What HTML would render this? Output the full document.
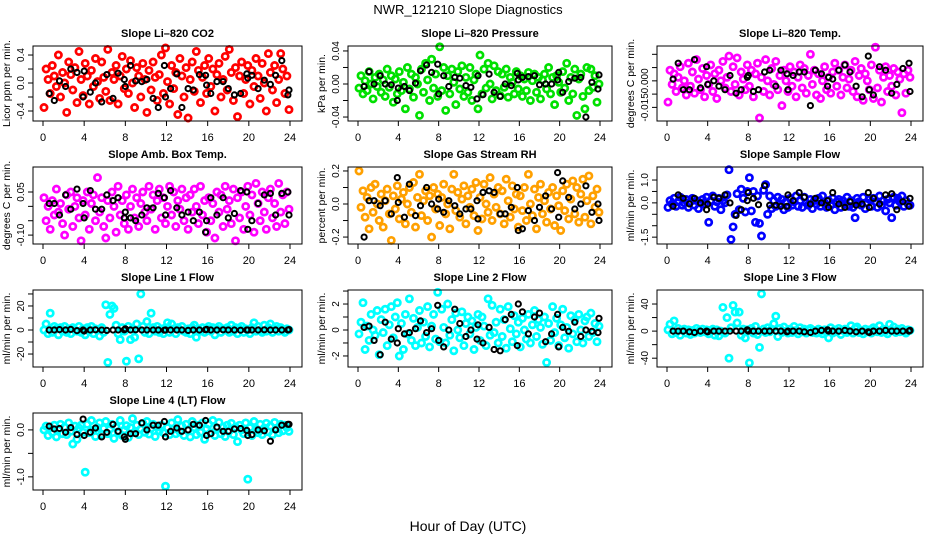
<!DOCTYPE html>
<html><head><meta charset="utf-8">
<style>
html,body{margin:0;padding:0;background:#fff;}
svg{display:block;font-family:"Liberation Sans",sans-serif;}
</style></head>
<body>
<svg id="chart" width="936" height="540" viewBox="0 0 936 540" xmlns="http://www.w3.org/2000/svg">
<text x="468" y="14" text-anchor="middle" font-size="13">NWR_121210  Slope Diagnostics</text>
<text x="468" y="531" text-anchor="middle" font-size="14">Hour of Day (UTC)</text>
</svg>
<script>
const hours=[0.1,0.3,0.5,0.7,0.9,1.1,1.3,1.5,1.7,1.9,2.1,2.3,2.5,2.7,2.9,3.1,3.3,3.5,3.7,3.9,4.1,4.3,4.5,4.7,4.9,5.1,5.3,5.5,5.7,5.9,6.1,6.3,6.5,6.7,6.9,7.1,7.3,7.5,7.7,7.9,8.1,8.3,8.5,8.7,8.9,9.1,9.3,9.5,9.7,9.9,10.1,10.3,10.5,10.7,10.9,11.1,11.3,11.5,11.7,11.9,12.1,12.3,12.5,12.7,12.9,13.1,13.3,13.5,13.7,13.9,14.1,14.3,14.5,14.7,14.9,15.1,15.3,15.5,15.7,15.9,16.1,16.3,16.5,16.7,16.9,17.1,17.3,17.5,17.7,17.9,18.1,18.3,18.5,18.7,18.9,19.1,19.3,19.5,19.7,19.9,20.1,20.3,20.5,20.7,20.9,21.1,21.3,21.5,21.7,21.9,22.1,22.3,22.5,22.7,22.9,23.1,23.3,23.5,23.7,23.9];
const blackHours=[0.6,1.1,1.6,2.2,2.7,3.3,3.9,4.0,4.6,5.1,5.7,6.2,6.8,7.3,7.9,8.0,8.5,9.0,9.6,10.1,10.7,11.2,11.8,11.9,12.4,13.0,13.5,14.1,14.6,15.2,15.8,15.9,16.3,16.9,17.5,18.0,18.6,19.2,19.8,19.9,20.3,20.9,21.5,22.1,22.6,23.2,23.8,23.9];
const xTicks=[0,4,8,12,16,20,24];

const co2=[-0.35,0.2,0.05,-0.15,0.25,0.1,-0.05,0.4,-0.2,0.15,0.0,-0.42,0.3,0.12,-0.1,0.22,-0.28,0.45,0.05,-0.18,0.28,0.1,-0.3,0.18,-0.05,0.35,0.02,-0.22,0.3,0.08,-0.12,0.48,-0.25,0.15,0.05,0.25,-0.3,0.1,0.38,-0.08,0.2,-0.15,0.32,0.0,-0.35,0.22,0.1,-0.2,0.28,0.05,-0.42,0.18,-0.1,0.3,0.08,-0.25,0.12,0.4,-0.15,0.5,0.02,-0.3,0.25,-0.08,0.15,-0.45,0.35,0.1,-0.2,0.22,-0.5,0.05,0.3,-0.12,0.45,0.18,-0.28,0.08,0.25,-0.15,0.35,-0.05,0.2,-0.4,0.12,0.28,-0.2,0.05,0.38,-0.1,0.48,0.15,-0.25,0.22,-0.48,0.1,0.3,-0.15,0.05,0.25,-0.3,0.18,-0.05,0.35,0.1,-0.22,0.28,0.0,-0.4,0.42,0.15,-0.1,0.25,-0.28,0.05,0.42,0.2,-0.15,0.1,-0.38];
const co2Black=[-0.15,-0.25,0.03,-0.05,0.2,0.15,-0.2,0.17,-0.13,0.0,-0.27,0.12,-0.22,0.14,0.05,-0.05,0.25,0.03,0.02,0.05,-0.22,-0.35,0.25,-0.2,-0.08,0.13,-0.35,-0.08,-0.1,0.12,0.11,-0.03,-0.15,0.02,0.02,-0.08,-0.17,-0.15,0.13,0.07,0.11,-0.08,0.04,-0.02,0.11,0.32,-0.17,-0.1];
const pres=[-0.005,0.01,-0.012,0.004,-0.008,0.015,0.0,-0.018,0.008,-0.003,0.012,-0.01,0.005,-0.015,0.018,-0.004,0.01,-0.022,0.006,-0.012,0.015,-0.008,0.002,-0.03,0.02,-0.006,0.012,-0.016,0.008,0.0,-0.038,0.018,-0.01,0.025,0.005,-0.02,0.03,-0.005,0.012,-0.015,0.045,-0.008,0.02,-0.032,0.01,-0.012,0.018,0.002,-0.025,0.015,-0.006,0.022,-0.015,0.008,-0.01,0.02,-0.02,0.005,0.012,-0.03,0.035,-0.012,0.018,-0.005,0.025,0.0,-0.018,0.022,-0.008,0.015,-0.014,0.012,-0.004,0.018,-0.016,0.008,0.002,-0.012,0.015,-0.006,0.01,-0.015,0.006,-0.008,0.014,-0.02,0.004,0.012,-0.01,0.008,-0.018,0.005,0.012,-0.006,0.02,-0.012,0.008,-0.025,0.01,0.002,-0.01,0.015,-0.005,0.025,-0.02,0.008,-0.012,0.018,-0.038,0.006,0.012,-0.015,-0.03,0.02,-0.008,0.018,-0.004,0.01,-0.022,0.0];
const presBlack=[-0.003,0.015,0.0,0.01,0.0,-0.001,-0.02,-0.005,-0.003,-0.008,0.001,0.016,0.023,0.014,0.024,-0.012,0.01,-0.003,0.008,0.007,-0.002,-0.004,-0.018,0.01,-0.013,0.012,-0.01,-0.015,0.0,-0.002,0.013,0.005,0.008,0.009,0.01,-0.001,0.0,0.0,0.005,0.014,-0.01,0.003,0.007,0.008,-0.04,0.002,-0.006,0.011];
const temp=[-0.012,0.006,-0.002,0.004,-0.006,0.002,0.008,-0.004,0.0,-0.008,0.01,-0.003,0.005,-0.007,0.012,0.001,-0.005,0.007,-0.009,0.003,-0.002,0.009,-0.006,0.004,-0.01,0.006,0.0,0.011,-0.004,0.002,0.014,-0.006,0.008,-0.002,0.013,-0.008,0.005,0.001,-0.005,0.009,-0.003,0.006,-0.009,0.004,0.01,-0.021,0.002,-0.006,0.012,0.0,-0.008,0.007,-0.002,0.011,-0.005,0.003,-0.014,0.006,0.0,-0.006,0.008,-0.003,0.005,-0.009,0.002,0.009,-0.004,0.007,-0.007,0.003,0.015,-0.002,0.006,-0.008,0.004,-0.01,0.0,0.008,-0.005,0.002,-0.007,0.005,0.01,-0.003,0.006,-0.008,0.002,0.009,-0.004,0.001,0.006,-0.006,0.011,-0.009,0.003,0.007,-0.011,0.004,0.0,-0.005,0.009,-0.01,0.019,-0.004,0.006,-0.012,0.002,0.008,-0.006,0.003,-0.003,0.007,-0.008,0.005,0.001,-0.018,0.004,-0.007,0.006,0.002];
const tempBlack=[0.001,0.01,-0.005,-0.005,0.012,-0.004,0.008,-0.002,0.0,-0.003,-0.005,0.003,-0.007,-0.005,0.002,0.003,-0.006,-0.005,0.005,0.006,-0.003,0.006,0.004,-0.005,0.003,0.005,0.005,-0.014,0.006,0.004,-0.003,0.002,0.001,0.006,0.009,0.005,-0.003,-0.009,0.014,-0.005,-0.008,0.008,0.006,-0.007,-0.002,0.007,0.01,-0.006];
const amb=[0.03,-0.05,0.0,-0.08,0.02,-0.03,0.06,-0.02,0.01,-0.06,-0.1,0.04,-0.01,0.05,-0.07,0.0,0.03,-0.04,-0.12,0.02,-0.03,0.05,-0.08,0.01,0.04,-0.05,0.1,-0.02,0.03,-0.07,-0.11,0.02,-0.04,0.05,0.0,-0.09,0.07,-0.03,0.02,-0.06,0.04,-0.08,0.0,0.06,-0.04,0.03,-0.07,0.01,0.05,-0.02,-0.05,0.07,-0.01,0.04,-0.08,0.02,0.06,-0.04,0.03,-0.06,0.0,0.07,-0.03,0.05,-0.07,0.02,-0.01,0.06,-0.05,0.03,-0.08,0.04,-0.02,0.06,0.0,-0.06,0.07,-0.03,0.02,-0.09,0.03,-0.05,0.01,-0.11,0.05,-0.02,0.04,-0.07,0.07,-0.01,0.02,-0.06,0.06,-0.12,0.03,-0.04,0.05,-0.08,0.0,0.07,-0.03,0.04,-0.09,0.08,0.01,-0.05,0.05,-0.02,-0.08,0.03,0.06,-0.04,0.01,-0.07,0.08,-0.02,0.04,-0.06,0.05,-0.01];
const ambBlack=[0.01,0.01,-0.03,0.04,-0.01,0.06,0.01,-0.04,0.055,-0.01,-0.01,0.04,0.02,0.03,-0.04,-0.02,-0.04,-0.05,-0.03,-0.005,-0.005,0.045,0.03,-0.03,0.055,-0.005,-0.03,-0.02,-0.05,-0.02,-0.09,-0.05,0.03,-0.03,0.03,-0.04,-0.025,0.055,0.05,-0.08,-0.05,0.01,0.04,0.045,-0.03,0.045,0.05,-0.03];
const rh=[0.2,-0.02,0.08,-0.08,0.04,-0.15,0.1,-0.05,0.12,0.0,-0.1,0.06,-0.14,0.02,0.09,-0.06,-0.22,0.05,-0.03,0.11,-0.09,0.03,0.07,-0.12,0.0,0.1,-0.05,0.13,-0.14,0.04,0.18,-0.07,0.02,0.08,-0.1,0.05,-0.2,0.1,-0.03,0.06,-0.13,0.04,0.12,-0.06,0.0,-0.15,0.09,0.18,-0.04,0.07,-0.08,0.03,0.11,-0.12,0.05,-0.02,0.09,-0.07,0.13,-0.16,0.04,-0.09,0.12,0.0,-0.05,0.16,-0.1,0.06,-0.02,0.1,-0.06,0.08,-0.12,0.15,0.02,-0.08,0.11,-0.03,0.06,-0.14,0.05,-0.04,0.1,-0.1,0.18,0.0,-0.07,0.09,-0.15,0.04,0.12,-0.06,0.02,-0.11,0.07,-0.03,0.1,-0.13,0.05,-0.01,-0.16,0.08,-0.04,0.12,-0.09,0.03,0.14,-0.06,0.1,-0.11,0.06,0.15,-0.08,0.02,0.17,-0.12,0.05,-0.02,0.09,-0.05];
const rhBlack=[-0.2,0.02,0.02,-0.01,0.02,-0.06,0.16,0.01,-0.08,0.12,-0.07,-0.01,0.1,0.0,-0.03,0.03,-0.05,0.02,-0.01,-0.06,-0.03,-0.03,0.02,-0.09,0.07,0.08,0.07,-0.06,-0.06,-0.02,0.1,-0.16,-0.15,-0.04,-0.1,-0.02,0.05,-0.03,0.19,-0.08,0.14,0.04,-0.03,0.0,0.11,-0.05,0.0,-0.1];
const flow=[-0.2,0.1,-0.05,0.2,-0.15,0.05,0.25,-0.1,0.0,0.15,-0.2,0.05,0.2,-0.1,0.1,-0.25,0.0,0.15,-0.05,0.25,-0.85,0.1,0.3,-0.15,0.05,0.2,-0.3,0.1,0.0,0.35,1.45,-1.6,-1.05,-0.5,0.4,-0.3,0.6,0.2,-0.4,0.5,1.1,-0.35,0.5,-0.85,0.3,-0.9,-1.45,0.55,0.8,-0.5,0.3,-0.25,0.1,-0.15,0.25,-0.05,0.15,-0.3,0.05,-0.2,0.2,-0.1,0.05,0.3,-0.15,0.1,-0.2,0.25,0.0,-0.1,0.15,-0.25,0.1,-0.05,0.2,-0.15,0.3,0.0,-0.2,0.1,-0.1,0.2,-0.3,0.05,0.15,-0.2,0.1,-0.05,0.25,-0.15,0.1,-0.2,-0.65,0.2,0.05,-0.1,0.25,-0.25,0.0,0.15,-0.15,0.2,0.05,-0.2,0.3,-0.1,0.1,-0.35,0.15,0.0,-0.65,0.25,-0.1,0.2,0.05,0.3,-0.15,0.1,-0.05,-0.1];
const flowBlack=[-0.15,0.35,0.2,-0.05,0.2,0.0,-0.3,-0.05,0.25,0.2,0.35,0.0,-0.55,-0.3,0.1,0.45,0.2,-0.08,0.75,-0.1,-0.1,-0.15,-0.15,0.35,0.1,0.45,0.25,-0.05,0.2,0.0,0.1,-0.2,0.45,-0.05,-0.2,0.05,-0.1,-0.05,0.45,-0.2,0.2,-0.05,0.35,0.4,-0.3,0.05,-0.15,0.2];
const line1=[0,5,-3,14,-2,3,1,-4,2,-1,3,-2,1,-3,2,0,-1,3,-2,1,-4,2,-1,3,-3,1,0,-5,2,-2,21,-27,13,20,18,4,-3,-8,2,-1,-26,3,-8,1,-6,5,-24,30,3,-2,7,-3,14,2,-1,3,-2,1,-3,2,6,-2,5,1,-3,2,0,3,-1,-2,1,-3,2,4,-6,1,-1,2,-2,1,3,-1,2,-4,1,3,-2,1,0,2,-2,4,-1,2,-3,1,3,-2,1,0,-3,2,6,-1,3,0,-2,4,-1,2,5,-2,1,3,-1,2,0,-2,1,0];
const line1Black=[0,0,0.3,0,0.5,-0.5,0,-0.8,0,0.2,0,-0.3,0,0,0.2,1,0,0.2,0,0,0,0,-0.2,0,0,0,0,-0.3,0,0,0.2,0.5,0,0,0.2,0,0,-0.2,0,0,0,0,0.2,0,0,0,0,0.3];
const line2=[-0.3,0.6,2.1,-1.5,0.3,-0.8,1.2,0.0,-0.4,1.5,-1.9,0.8,-0.2,1.6,-1.2,0.4,1.8,-0.6,1.0,2.1,-2.0,0.5,-1.5,1.2,-0.3,2.4,-0.8,0.9,-1.2,0.2,1.5,-1.0,0.6,-0.5,1.8,-1.3,0.3,1.2,-0.7,2.9,-0.9,1.6,0.2,-1.0,2.0,-0.4,0.8,-1.6,1.3,0.0,-0.6,1.4,-1.2,0.5,1.0,-0.3,0.7,-1.5,0.2,1.2,-0.8,1.0,0.3,-1.2,2.4,-0.4,1.9,-0.2,0.6,-1.0,1.6,-0.5,0.8,-1.4,1.8,0.1,-0.9,1.1,-0.3,0.6,-1.3,0.9,0.0,-0.7,1.2,-1.0,0.4,1.5,-0.5,0.8,0.2,-1.1,1.0,-2.5,0.5,-0.8,1.8,-0.2,0.9,-1.2,0.4,1.6,-0.6,0.2,-1.4,1.1,-0.3,0.8,-0.9,1.2,0.0,-1.0,0.7,1.0,-0.5,1.3,-0.2,0.5,-0.9,0.3];
const line2Black=[0.2,0.3,-0.8,-1.9,0.6,-0.7,-1.0,0.1,-0.3,-0.2,0.1,0.7,-0.2,0.1,1.9,-0.8,-1.3,0.0,1.6,0.5,-0.5,0.0,-0.7,0.4,-1.0,0.2,-1.5,-1.6,0.8,1.2,-1.2,2.0,1.4,-0.3,1.0,1.3,-0.9,-0.3,1.2,-1.3,0.2,-0.1,0.6,-0.5,0.0,-0.1,-0.2,0.9];
const line3=[2,10,-4,15,-2,4,-6,1,3,-3,2,-5,1,-3,4,0,-2,3,-1,2,-4,1,3,-6,2,-7,0,35,-3,20,-40,5,38,28,12,28,-6,3,-10,2,-47,4,-3,7,-5,-24,55,3,-2,5,-1,3,11,22,-8,4,-2,6,0,-3,3,-2,7,1,-4,5,-1,3,-3,2,4,-2,1,-3,3,0,-4,2,-1,-10,5,-3,2,-1,4,-5,1,3,-2,0,8,-3,4,6,-2,1,-4,3,-1,2,-3,5,2,-1,8,-2,3,0,-4,10,1,6,-2,3,-1,4,0,-3,2,1];
const line3Black=[0,0,0,-1,-2,0,0,-1,0,0,0,0,0,0,2,0,0,0,0,0,0,0,-1,0,0,0,-1,-2,0,1,2,0,0,0,1,0,-1,0,-1,-2,0,0,1,0,0,0,0,1];
const line4=[0.0,0.08,-0.12,0.05,-0.05,0.1,-0.15,0.02,0.12,-0.08,0.06,-0.1,0.15,-0.03,-0.3,0.08,-0.2,0.04,0.1,-0.05,-0.9,0.12,-0.06,0.2,0.0,-0.14,0.05,0.15,-0.1,0.03,0.18,-0.08,0.02,0.12,-0.18,0.06,-0.04,0.2,-0.12,0.0,0.09,-0.16,0.05,0.24,-0.06,0.1,-0.1,0.02,0.14,-0.05,0.18,-0.09,0.03,0.12,-0.14,0.06,-0.02,0.1,-0.06,-1.2,0.05,-0.1,0.15,0.02,-0.08,0.22,-0.04,0.08,-0.12,0.12,0.0,-0.15,0.18,0.05,-0.1,0.1,-0.05,0.15,-0.2,0.02,0.12,-0.06,0.2,-0.12,0.04,0.16,-0.08,0.06,-0.14,0.1,-0.02,0.14,-0.1,0.06,-0.25,0.1,0.0,-0.08,0.15,-1.05,0.05,-0.12,0.18,0.0,-0.06,0.12,-0.1,0.04,0.14,-0.04,0.08,-0.1,0.16,0.02,-0.06,0.12,-0.02,0.1,0.05,-0.03];
const line4Black=[0.08,0.02,0.03,-0.05,0.05,-0.1,0.23,-0.12,-0.05,0.04,-0.15,-0.05,0.12,-0.03,-0.15,-0.2,-0.08,-0.08,0.15,0.0,0.1,0.1,0.18,-0.15,-0.03,0.04,-0.03,0.0,0.12,0.1,0.2,-0.12,-0.08,0.06,-0.03,-0.03,0.02,0.03,-0.01,-0.12,-0.1,0.0,-0.02,-0.24,0.0,0.1,0.12,0.12];

const cols=[{L:33,R:302},{L:348,R:612},{L:657,R:923}];
const rowTop=[46,167,290,413], rowBot=[121,244,367,490];
const panels=[
 {name:'co2',title:'Slope Li\u2013820 CO2',ylab:'Licor ppm per min.',color:'#ff0000',r:0,c:0,lo:-0.543,hi:0.529,ticks:[-0.4,-0.2,0,0.2,0.4],labels:['-0.4','0.0','0.4'],labVals:[-0.4,0,0.4],vals:co2,blk:co2Black},
 {name:'pressure',title:'Slope Li\u2013820 Pressure',ylab:'kPa per min.',color:'#00e000',r:0,c:1,lo:-0.0448,hi:0.046,ticks:[-0.04,-0.02,0,0.02,0.04],labels:['-0.04','0.00','0.04'],labVals:[-0.04,0,0.04],vals:pres,blk:presBlack},
 {name:'li820-temp',title:'Slope Li\u2013820 Temp.',ylab:'degrees C per min.',color:'#ff00ff',r:0,c:2,lo:-0.0227,hi:0.0197,ticks:[-0.015,-0.0075,0,0.0075,0.015],labels:['-0.015','0.000'],labVals:[-0.015,0],vals:temp,blk:tempBlack},
 {name:'amb-box-temp',title:'Slope Amb. Box Temp.',ylab:'degrees C per min.',color:'#ff00ff',r:1,c:0,lo:-0.131,hi:0.137,ticks:[-0.1,-0.05,0,0.05],labels:['-0.10','0.05'],labVals:[-0.1,0.05],vals:amb,blk:ambBlack},
 {name:'gas-stream-rh',title:'Slope Gas Stream RH',ylab:'percent per min.',color:'#ffa000',r:1,c:1,lo:-0.242,hi:0.224,ticks:[-0.2,-0.1,0,0.1,0.2],labels:['-0.2','0.0','0.2'],labVals:[-0.2,0,0.2],vals:rh,blk:rhBlack},
 {name:'sample-flow',title:'Slope Sample Flow',ylab:'ml/min per min.',color:'#0000ff',r:1,c:2,lo:-1.8,hi:1.57,ticks:[-1.5,-1,-0.5,0,0.5,1],labels:['-1.5','0.0','1.0'],labVals:[-1.5,0,1],vals:flow,blk:flowBlack},
 {name:'line1-flow',title:'Slope Line 1 Flow',ylab:'ml/min per min.',color:'#00ffff',r:2,c:0,lo:-30.8,hi:33.3,ticks:[-20,-10,0,10,20,30],labels:['-20','0','20'],labVals:[-20,0,20],vals:line1,blk:line1Black},
 {name:'line2-flow',title:'Slope Line 2 Flow',ylab:'ml/min per min.',color:'#00ffff',r:2,c:1,lo:-2.85,hi:3.08,ticks:[-2,-1,0,1,2,3],labels:['-2','0','2'],labVals:[-2,0,2],vals:line2,blk:line2Black},
 {name:'line3-flow',title:'Slope Line 3 Flow',ylab:'ml/min per min.',color:'#00ffff',r:2,c:2,lo:-53,hi:60.7,ticks:[-40,-20,0,20,40],labels:['-40','0','40'],labVals:[-40,0,40],vals:line3,blk:line3Black},
 {name:'line4-flow',title:'Slope Line 4 (LT) Flow',ylab:'ml/min per min.',color:'#00ffff',r:3,c:0,lo:-1.28,hi:0.36,ticks:[-1,-0.5,0],labels:['-1.0','0.0'],labVals:[-1,0],vals:line4,blk:line4Black}
];
const NS='http://www.w3.org/2000/svg';
const svg=document.getElementById('chart');
function mk(tag,attrs,parent){const e=document.createElementNS(NS,tag);for(const k in attrs)e.setAttribute(k,attrs[k]);(parent||svg).appendChild(e);return e;}
panels.forEach(p=>{
  const col=cols[p.c],T=rowTop[p.r],B=rowBot[p.r];
  const x0=col.L+10,x1=col.R-12;
  const xs=h=>x0+h*(x1-x0)/24;
  const ys=v=>B-(v-p.lo)*(B-T)/(p.hi-p.lo);
  const g=mk('g',{});
  
  
  const t=mk('text',{x:(col.L+col.R)/2,y:T-9,'text-anchor':'middle','font-size':'11','font-weight':'bold'},g);
  t.textContent=p.title;
  
  
  const pts=mk('g',{fill:'none'},g);
  
  
  p.vals.forEach((v,i)=>{
    const c=mk('circle',{cx:xs(hours[i]).toFixed(1),cy:ys(v).toFixed(1),r:3.1,stroke:p.color,'stroke-width':2.7},pts);
    
    
  });
  p.blk.forEach((v,i)=>{
    const c=mk('circle',{cx:xs(blackHours[i]).toFixed(1),cy:ys(v).toFixed(1),r:2.6,stroke:'#000','stroke-width':2},pts);
    
    
  });
  const box=mk('rect',{x:col.L,y:T,width:col.R-col.L,height:B-T,fill:'none',stroke:'#000','stroke-width':1},g);
  
  
  const xa=mk('g',{},g);
  
  
  mk('line',{x1:xs(0),x2:xs(24),y1:B,y2:B,stroke:'#000'},xa);
  xTicks.forEach(h=>{
    mk('line',{x1:xs(h),x2:xs(h),y1:B,y2:B+5,stroke:'#000'},xa);
    const tl=mk('text',{x:xs(h),y:B+20,'text-anchor':'middle','font-size':'11'},xa);
    tl.textContent=h;
    
    
  });
  const ya=mk('g',{},g);
  
  
  const yt=p.ticks;
  mk('line',{x1:col.L,x2:col.L,y1:ys(yt[0]),y2:ys(yt[yt.length-1]),stroke:'#000'},ya);
  yt.forEach(v=>{mk('line',{x1:col.L-5,x2:col.L,y1:ys(v),y2:ys(v),stroke:'#000'},ya);});
  p.labVals.forEach((v,i)=>{
    const yy=ys(v);
    const tl=mk('text',{x:col.L-9,y:yy,'text-anchor':'middle','font-size':'10',transform:`rotate(-90 ${col.L-9} ${yy})`},ya);
    tl.textContent=p.labels[i];
    
    
  });
  const yl=mk('text',{x:col.L-23,y:(T+B)/2,'text-anchor':'middle','font-size':'10.5',transform:`rotate(-90 ${col.L-23} ${(T+B)/2})`},g);
  yl.textContent=p.ylab;
  
  
});
</script>
</body></html>
